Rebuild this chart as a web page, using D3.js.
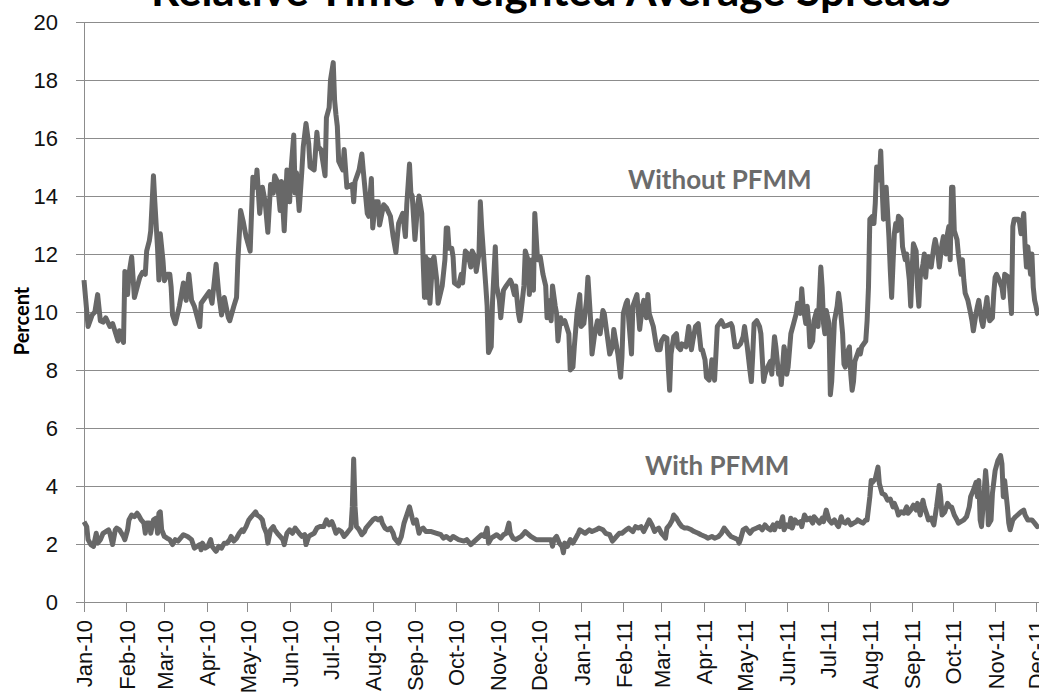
<!DOCTYPE html>
<html lang="en">
<head>
<meta charset="utf-8">
<title>Relative Time Weighted Average Spreads</title>
<style>
	body {
		margin: 0;
		background-color: white;
	}
	svg {
		display: block;
		font-family: Lato, "Open Sans", sans-serif;
	}
	.grid line {
		stroke: #8c8c8c;
		stroke-width: 1;
		shape-rendering: crispEdges;
	}
	.axis path,
	.axis line {
		fill: none;
		stroke: #8c8c8c;
		shape-rendering: crispEdges;
	}
	.axis text {
		font-size: 22px;
		fill: #111;
	}
	.series {
		fill: none;
		stroke: #686868;
		stroke-width: 5;
		stroke-linejoin: round;
	}
	.serieslabel {
		font-size: 26px;
		font-weight: bold;
		fill: #6b6b6b;
	}
	.title {
		font-size: 44px;
		font-weight: bold;
		fill: #000;
	}
	.ylabel {
		font-size: 20px;
		font-weight: bold;
		fill: #000;
	}
</style>
</head>
<body>
<script src="https://cdnjs.cloudflare.com/ajax/libs/d3/7.8.5/d3.min.js"></script>
<script>

var monthTicks = ["Jan-10", "Feb-10", "Mar-10", "Apr-10", "May-10", "Jun-10", "Jul-10", "Aug-10",
	"Sep-10", "Oct-10", "Nov-10", "Dec-10", "Jan-11", "Feb-11", "Mar-11", "Apr-11", "May-11",
	"Jun-11", "Jul-11", "Aug-11", "Sep-11", "Oct-11", "Nov-11", "Dec-11"];

var yTicks = [0, 2, 4, 6, 8, 10, 12, 14, 16, 18, 20];

// Without PFMM: [date, percent]
var withoutPFMM = [
	["1/1/10",11.1],["1/4/10",9.5],["1/7/10",9.9],["1/9/10",10.0],["1/11/10",10.6],["1/13/10",9.7],
	["1/15/10",9.65],["1/17/10",9.8],["1/20/10",9.5],["1/22/10",9.6],["1/24/10",9.3],["1/26/10",9.0],
	["1/27/10",9.35],["1/30/10",8.95],["1/31/10",11.4],["2/1/10",11.2],["2/2/10",10.6],["2/3/10",11.3],
	["2/5/10",11.9],["2/6/10",11.2],["2/7/10",10.5],["2/9/10",10.85],["2/11/10",11.2],["2/13/10",11.37],
	["2/15/10",11.3],["2/16/10",12.1],["2/18/10",12.46],["2/19/10",12.8],["2/21/10",14.7],["2/22/10",13.8],
	["2/24/10",12.2],["2/25/10",11.1],["2/26/10",12.7],["2/28/10",11.77],["3/1/10",11.08],["3/3/10",11.3],
	["3/5/10",11.3],["3/6/10",10.85],["3/7/10",9.9],["3/9/10",9.6],["3/12/10",10.2],["3/15/10",11.0],
	["3/17/10",10.4],["3/19/10",11.3],["3/21/10",10.4],["3/23/10",10.2],["3/27/10",9.5],["3/28/10",10.3],
	["3/31/10",10.5],["4/3/10",10.7],["4/5/10",10.3],["4/8/10",11.65],["4/10/10",10.6],["4/12/10",9.9],
	["4/14/10",10.5],["4/17/10",9.8],["4/18/10",9.7],["4/21/10",10.2],["4/23/10",10.5],["4/24/10",11.8],
	["4/26/10",13.5],["4/28/10",13.1],["4/30/10",12.6],["5/3/10",12.1],["5/4/10",13.4],["5/5/10",14.65],
	["5/7/10",14.3],["5/8/10",14.9],["5/10/10",13.4],["5/12/10",14.3],["5/14/10",13.8],["5/16/10",12.75],
	["5/18/10",14.4],["5/20/10",14.1],["5/21/10",14.7],["5/23/10",14.5],["5/25/10",13.5],["5/26/10",14.5],
	["5/28/10",12.8],["5/30/10",14.9],["6/1/10",13.8],["6/2/10",14.9],["6/4/10",16.1],["6/5/10",14.1],
	["6/6/10",14.8],["6/8/10",13.5],["6/10/10",14.9],["6/11/10",15.7],["6/13/10",16.5],["6/15/10",15.8],
	["6/16/10",15.0],["6/19/10",14.9],["6/21/10",16.2],["6/22/10",15.7],["6/24/10",15.6],["6/25/10",15.3],
	["6/27/10",14.7],["6/28/10",16.7],["6/30/10",17.05],["7/1/10",18.0],["7/3/10",18.6],["7/4/10",17.3],
	["7/5/10",16.8],["7/6/10",16.4],["7/7/10",15.2],["7/10/10",14.9],["7/11/10",15.6],["7/13/10",14.3],
	["7/17/10",14.4],["7/18/10",13.8],["7/19/10",14.5],["7/22/10",14.9],["7/24/10",15.45],["7/25/10",14.9],
	["7/28/10",13.4],["7/29/10",13.3],["7/31/10",14.6],["8/1/10",12.9],["8/3/10",13.8],["8/5/10",13.8],
	["8/6/10",13.0],["8/9/10",13.7],["8/11/10",13.6],["8/14/10",13.3],["8/16/10",12.6],["8/18/10",12.05],
	["8/20/10",13.05],["8/23/10",13.4],["8/25/10",12.6],["8/26/10",13.7],["8/28/10",15.1],["8/29/10",14.1],
	["8/30/10",14.0],["9/1/10",12.5],["9/3/10",13.7],["9/4/10",14.0],["9/6/10",13.4],["9/7/10",11.8],
	["9/8/10",10.5],["9/9/10",11.9],["9/10/10",10.5],["9/11/10",11.8],["9/12/10",10.3],["9/14/10",11.8],
	["9/15/10",11.9],["9/17/10",11.1],["9/18/10",10.3],["9/21/10",10.9],["9/23/10",11.8],["9/24/10",12.9],
	["9/25/10",12.9],["9/26/10",12.2],["9/28/10",12.2],["9/29/10",11.9],["9/30/10",11.0],["10/3/10",10.9],
	["10/5/10",11.3],["10/6/10",11.0],["10/8/10",12.1],["10/10/10",12.0],["10/12/10",11.55],["10/13/10",12.1],
	["10/15/10",11.9],["10/16/10",11.4],["10/18/10",12.0],["10/19/10",13.8],["10/20/10",12.9],["10/22/10",11.55],
	["10/23/10",10.9],["10/24/10",10.2],["10/25/10",8.6],["10/27/10",8.8],["10/28/10",10.4],["10/30/10",12.25],
	["10/31/10",10.9],["11/2/10",10.4],["11/3/10",9.8],["11/5/10",10.75],["11/7/10",10.9],["11/10/10",11.1],
	["11/11/10",11.0],["11/13/10",10.6],["11/14/10",10.9],["11/16/10",9.95],["11/17/10",9.7],["11/18/10",10.05],
	["11/20/10",10.9],["11/21/10",12.1],["11/23/10",11.8],["11/24/10",10.6],["11/26/10",11.8],["11/27/10",10.75],
	["11/28/10",13.4],["11/30/10",11.8],["12/2/10",11.9],["12/4/10",11.3],["12/6/10",10.9],["12/7/10",9.8],
	["12/8/10",10.4],["12/10/10",9.7],["12/11/10",10.9],["12/13/10",10.2],["12/14/10",9.95],["12/15/10",9.0],
	["12/17/10",9.8],["12/18/10",9.6],["12/20/10",9.7],["12/23/10",9.25],["12/24/10",8.0],["12/26/10",8.1],
	["12/27/10",8.8],["12/29/10",9.95],["12/31/10",10.6],["1/1/11",9.5],["1/3/11",9.6],["1/5/11",10.4],
	["1/6/11",11.2],["1/8/11",9.7],["1/9/11",8.55],["1/11/11",9.25],["1/13/11",9.7],["1/15/11",9.25],
	["1/17/11",10.05],["1/18/11",9.95],["1/20/11",9.25],["1/22/11",8.55],["1/24/11",8.8],["1/25/11",9.4],
	["1/28/11",8.55],["1/30/11",7.75],["1/31/11",8.45],["2/1/11",9.95],["2/3/11",10.3],["2/4/11",10.4],
	["2/5/11",9.7],["2/7/11",8.55],["2/8/11",10.2],["2/11/11",10.6],["2/13/11",9.4],["2/15/11",10.2],
	["2/16/11",10.4],["2/18/11",9.8],["2/19/11",10.6],["2/20/11",9.95],["2/23/11",9.5],["2/25/11",8.9],
	["2/26/11",8.7],["2/28/11",8.7],["3/1/11",9.0],["3/3/11",9.15],["3/5/11",9.1],["3/6/11",8.1],
	["3/7/11",7.3],["3/8/11",8.55],["3/10/11",9.15],["3/12/11",9.25],["3/13/11",8.8],["3/15/11",8.7],
	["3/16/11",8.9],["3/19/11",8.8],["3/21/11",9.5],["3/23/11",8.7],["3/24/11",9.0],["3/26/11",9.5],
	["3/28/11",9.6],["3/29/11",9.15],["3/30/11",8.7],["3/31/11",8.7],["4/2/11",8.35],["4/3/11",7.75],
	["4/5/11",7.65],["4/6/11",7.9],["4/7/11",8.35],["4/9/11",7.65],["4/10/11",8.55],["4/11/11",9.5],
	["4/14/11",9.7],["4/16/11",9.5],["4/19/11",9.55],["4/21/11",9.6],["4/22/11",9.5],["4/24/11",8.8],
	["4/26/11",8.8],["4/28/11",8.9],["4/30/11",9.15],["5/1/11",9.5],["5/3/11",8.8],["5/5/11",7.97],
	["5/6/11",7.6],["5/7/11",8.5],["5/8/11",9.6],["5/10/11",9.7],["5/12/11",9.5],["5/13/11",9.25],
	["5/15/11",7.6],["5/16/11",7.85],["5/18/11",8.1],["5/20/11",8.3],["5/21/11",7.85],["5/23/11",9.15],
	["5/24/11",8.8],["5/26/11",7.85],["5/27/11",8.1],["5/28/11",7.5],["5/30/11",8.8],["5/31/11",8.55],
	["6/1/11",7.85],["6/2/11",8.1],["6/4/11",9.25],["6/6/11",9.6],["6/8/11",9.95],["6/9/11",10.3],
	["6/11/11",9.95],["6/12/11",10.8],["6/13/11",10.2],["6/15/11",9.6],["6/16/11",10.2],["6/17/11",9.7],
	["6/18/11",8.8],["6/20/11",9.0],["6/21/11",9.7],["6/23/11",10.05],["6/24/11",9.5],["6/26/11",11.55],
	["6/27/11",10.85],["6/28/11",9.6],["6/29/11",9.25],["6/30/11",10.05],["7/2/11",9.6],["7/3/11",7.15],
	["7/4/11",7.6],["7/6/11",9.7],["7/7/11",9.95],["7/8/11",10.2],["7/9/11",10.65],["7/10/11",10.3],
	["7/12/11",9.25],["7/13/11",8.2],["7/14/11",8.1],["7/15/11",8.55],["7/17/11",8.8],["7/18/11",7.85],
	["7/19/11",7.3],["7/20/11",7.6],["7/21/11",8.3],["7/24/11",8.7],["7/25/11",8.55],["7/26/11",8.8],
	["7/29/11",9.0],["7/30/11",9.7],["7/31/11",10.85],["8/1/11",13.2],["8/3/11",13.3],["8/4/11",13.05],
	["8/5/11",13.75],["8/6/11",15.0],["8/8/11",14.55],["8/9/11",15.55],["8/10/11",14.3],["8/11/11",13.2],
	["8/12/11",14.1],["8/13/11",14.3],["8/15/11",12.6],["8/16/11",11.45],["8/17/11",10.5],["8/18/11",11.65],
	["8/19/11",12.7],["8/20/11",13.05],["8/21/11",12.8],["8/22/11",13.3],["8/24/11",13.2],["8/25/11",12.25],
	["8/27/11",11.8],["8/28/11",12.0],["8/30/11",11.1],["8/31/11",10.2],["9/1/11",11.45],["9/2/11",12.35],
	["9/4/11",12.1],["9/5/11",10.85],["9/6/11",10.2],["9/7/11",11.2],["9/9/11",11.65],["9/10/11",12.0],
	["9/11/11",11.2],["9/12/11",11.8],["9/13/11",11.9],["9/15/11",11.55],["9/16/11",11.9],["9/17/11",12.25],
	["9/18/11",12.5],["9/20/11",12.0],["9/21/11",11.55],["9/23/11",12.35],["9/24/11",12.6],["9/26/11",12.0],
	["9/27/11",12.7],["9/28/11",12.95],["9/29/11",11.8],["9/30/11",14.3],["10/1/11",14.3],["10/2/11",12.8],
	["10/4/11",12.5],["10/5/11",12.0],["10/7/11",11.3],["10/8/11",11.8],["10/9/11",11.1],["10/10/11",10.65],
	["10/12/11",10.4],["10/14/11",9.95],["10/15/11",9.7],["10/16/11",9.35],["10/18/11",9.95],["10/19/11",10.2],
	["10/20/11",10.4],["10/22/11",9.7],["10/23/11",9.5],["10/26/11",10.5],["10/27/11",9.95],["10/28/11",9.7],
	["10/30/11",9.8],["10/31/11",10.65],["11/1/11",11.2],["11/2/11",11.3],["11/4/11",11.1],["11/6/11",10.85],
	["11/7/11",10.5],["11/8/11",11.3],["11/11/11",11.2],["11/13/11",9.95],["11/14/11",12.95],["11/15/11",13.2],
	["11/18/11",13.2],["11/19/11",13.05],["11/20/11",12.7],["11/22/11",13.4],["11/23/11",12.25],["11/24/11",11.55],
	["11/25/11",12.25],["11/27/11",11.3],["11/28/11",12.0],["11/29/11",10.85],["11/30/11",10.4],["12/1/11",10.2],
	["12/2/11",9.95],["12/3/11",9.9]
];

// With PFMM: [date, percent]
var withPFMM = [
	["1/1/10",2.77],["1/3/10",2.6],["1/4/10",2.15],["1/6/10",1.98],["1/8/10",1.92],["1/10/10",2.37],
	["1/11/10",2.03],["1/13/10",2.15],["1/15/10",2.37],["1/17/10",2.43],["1/19/10",2.49],["1/20/10",2.37],
	["1/22/10",1.98],["1/24/10",2.49],["1/25/10",2.55],["1/27/10",2.49],["1/30/10",2.26],["1/31/10",2.15],
	["2/2/10",2.49],["2/3/10",2.83],["2/5/10",3.0],["2/7/10",2.94],["2/9/10",3.06],["2/10/10",3.0],
	["2/12/10",2.83],["2/14/10",2.72],["2/15/10",2.37],["2/16/10",2.72],["2/18/10",2.72],["2/19/10",2.37],
	["2/21/10",2.83],["2/23/10",2.89],["2/24/10",2.37],["2/25/10",3.06],["2/26/10",3.11],["2/27/10",2.49],
	["3/1/10",2.26],["3/3/10",2.2],["3/5/10",2.15],["3/7/10",1.98],["3/9/10",2.15],["3/11/10",2.1],
	["3/15/10",2.32],["3/18/10",2.26],["3/21/10",2.15],["3/23/10",1.86],["3/25/10",1.92],["3/27/10",1.98],
	["3/28/10",1.8],["3/29/10",2.03],["3/31/10",1.86],["4/2/10",1.92],["4/4/10",2.15],["4/5/10",1.92],
	["4/7/10",1.8],["4/8/10",1.75],["4/10/10",1.92],["4/12/10",1.86],["4/14/10",2.03],["4/16/10",2.03],
	["4/18/10",2.15],["4/19/10",2.26],["4/21/10",2.1],["4/23/10",2.2],["4/25/10",2.37],["4/27/10",2.49],
	["4/28/10",2.43],["4/30/10",2.6],["5/2/10",2.83],["5/3/10",2.89],["5/5/10",3.0],["5/7/10",3.11],
	["5/8/10",3.0],["5/10/10",2.94],["5/12/10",2.83],["5/13/10",2.6],["5/15/10",2.37],["5/16/10",2.03],
	["5/18/10",2.49],["5/20/10",2.6],["5/21/10",2.49],["5/23/10",2.37],["5/25/10",2.26],["5/27/10",2.15],
	["5/28/10",1.98],["5/30/10",2.37],["6/1/10",2.49],["6/3/10",2.37],["6/5/10",2.55],["6/6/10",2.49],
	["6/8/10",2.37],["6/10/10",2.26],["6/12/10",2.32],["6/13/10",1.98],["6/15/10",2.26],["6/17/10",2.32],
	["6/19/10",2.37],["6/21/10",2.55],["6/23/10",2.6],["6/26/10",2.6],["6/28/10",2.83],["6/30/10",2.66],
	["7/2/10",2.77],["7/3/10",2.66],["7/5/10",2.37],["7/7/10",2.49],["7/9/10",2.43],["7/11/10",2.26],
	["7/13/10",2.37],["7/14/10",2.43],["7/16/10",2.55],["7/17/10",3.28],["7/18/10",4.93],["7/19/10",3.28],
	["7/20/10",2.6],["7/21/10",2.55],["7/22/10",2.49],["7/24/10",2.32],["7/26/10",2.43],["7/27/10",2.55],
	["7/29/10",2.66],["7/31/10",2.77],["8/1/10",2.83],["8/3/10",2.89],["8/5/10",2.83],["8/7/10",2.89],
	["8/8/10",2.72],["8/10/10",2.55],["8/12/10",2.49],["8/14/10",2.55],["8/16/10",2.37],["8/17/10",2.2],
	["8/20/10",2.03],["8/22/10",2.26],["8/24/10",2.72],["8/26/10",3.0],["8/28/10",3.28],["8/30/10",2.89],
	["8/31/10",2.72],["9/2/10",2.83],["9/4/10",2.37],["9/5/10",2.49],["9/7/10",2.55],["9/9/10",2.43],
	["9/13/10",2.43],["9/17/10",2.37],["9/20/10",2.32],["9/22/10",2.2],["9/24/10",2.26],["9/27/10",2.15],
	["9/29/10",2.26],["10/3/10",2.15],["10/7/10",2.1],["10/9/10",2.15],["10/12/10",1.98],["10/16/10",2.15],
	["10/20/10",2.32],["10/22/10",2.26],["10/24/10",2.55],["10/25/10",2.03],["10/27/10",2.2],["10/31/10",2.32],
	["11/3/10",2.2],["11/5/10",2.32],["11/7/10",2.37],["11/9/10",2.72],["11/10/10",2.37],["11/12/10",2.2],
	["11/14/10",2.15],["11/18/10",2.26],["11/20/10",2.37],["11/21/10",2.43],["11/25/10",2.26],["11/29/10",2.15],
	["12/3/10",2.15],["12/6/10",2.15],["12/10/10",2.15],["12/11/10",1.92],["12/12/10",2.15],["12/14/10",2.26],
	["12/15/10",2.15],["12/16/10",2.03],["12/18/10",1.92],["12/19/10",1.7],["12/20/10",2.03],["12/22/10",1.92],
	["12/24/10",2.15],["12/26/10",2.03],["12/28/10",2.2],["12/30/10",2.37],["12/31/10",2.49],["1/2/11",2.43],
	["1/4/11",2.37],["1/7/11",2.49],["1/9/11",2.43],["1/12/11",2.49],["1/14/11",2.55],["1/17/11",2.49],
	["1/19/11",2.37],["1/22/11",2.32],["1/24/11",2.1],["1/25/11",2.15],["1/27/11",2.26],["1/29/11",2.37],
	["1/31/11",2.37],["2/3/11",2.49],["2/5/11",2.55],["2/8/11",2.43],["2/10/11",2.6],["2/12/11",2.55],
	["2/14/11",2.6],["2/16/11",2.43],["2/19/11",2.72],["2/20/11",2.83],["2/22/11",2.66],["2/24/11",2.43],
	["2/25/11",2.49],["2/27/11",2.55],["3/1/11",2.37],["3/3/11",2.26],["3/4/11",2.2],["3/5/11",2.55],
	["3/7/11",2.66],["3/9/11",2.83],["3/10/11",3.0],["3/12/11",2.89],["3/14/11",2.72],["3/16/11",2.6],
	["3/18/11",2.55],["3/20/11",2.55],["3/23/11",2.49],["3/25/11",2.43],["3/28/11",2.37],["3/30/11",2.32],
	["4/2/11",2.26],["4/4/11",2.2],["4/7/11",2.26],["4/9/11",2.2],["4/12/11",2.26],["4/14/11",2.37],
	["4/16/11",2.55],["4/19/11",2.37],["4/21/11",2.26],["4/24/11",2.2],["4/26/11",2.15],["4/27/11",2.03],
	["4/28/11",2.15],["4/30/11",2.49],["5/2/11",2.55],["5/5/11",2.37],["5/7/11",2.49],["5/10/11",2.55],
	["5/12/11",2.6],["5/14/11",2.49],["5/16/11",2.66],["5/18/11",2.55],["5/20/11",2.49],["5/22/11",2.66],
	["5/23/11",2.49],["5/25/11",2.72],["5/27/11",2.6],["5/29/11",2.94],["5/30/11",2.49],["6/1/11",2.66],
	["6/3/11",2.6],["6/4/11",2.89],["6/5/11",2.55],["6/7/11",2.83],["6/9/11",2.72],["6/11/11",2.77],
	["6/12/11",2.6],["6/14/11",3.0],["6/16/11",2.83],["6/18/11",2.89],["6/20/11",2.72],["6/21/11",2.94],
	["6/23/11",2.83],["6/25/11",2.72],["6/27/11",2.89],["6/28/11",2.77],["6/30/11",3.17],["7/2/11",2.83],
	["7/4/11",2.72],["7/6/11",2.83],["7/8/11",2.66],["7/9/11",2.6],["7/11/11",2.94],["7/12/11",2.77],
	["7/14/11",2.72],["7/16/11",2.83],["7/18/11",2.66],["7/20/11",2.72],["7/22/11",2.77],["7/23/11",2.83],
	["7/25/11",2.77],["7/27/11",2.72],["7/29/11",2.83],["7/30/11",2.83],["8/1/11",3.63],["8/2/11",4.19],
	["8/3/11",4.13],["8/5/11",4.25],["8/7/11",4.65],["8/8/11",4.08],["8/10/11",3.74],["8/12/11",3.7],
	["8/14/11",3.51],["8/16/11",3.55],["8/18/11",3.28],["8/19/11",3.4],["8/21/11",3.17],["8/22/11",3.0],
	["8/24/11",3.11],["8/26/11",3.06],["8/28/11",3.28],["8/29/11",3.06],["8/31/11",3.17],["9/2/11",3.34],
	["9/4/11",3.17],["9/5/11",3.4],["9/7/11",3.0],["9/9/11",3.51],["9/10/11",3.28],["9/12/11",3.0],
	["9/13/11",2.83],["9/15/11",2.89],["9/17/11",2.66],["9/19/11",3.28],["9/21/11",4.02],["9/22/11",3.63],
	["9/23/11",3.0],["9/25/11",3.1],["9/27/11",3.4],["9/29/11",3.28],["9/30/11",3.28],["10/2/11",3.0],
	["10/4/11",2.83],["10/5/11",2.72],["10/9/11",2.83],["10/11/11",2.94],["10/13/11",3.28],["10/14/11",3.63],
	["10/16/11",3.85],["10/18/11",4.13],["10/19/11",3.63],["10/20/11",4.19],["10/21/11",2.83],["10/22/11",2.6],
	["10/24/11",3.85],["10/25/11",4.53],["10/26/11",3.97],["10/27/11",2.66],["10/29/11",2.83],["10/30/11",3.74],
	["11/1/11",4.53],["11/3/11",4.87],["11/5/11",5.05],["11/6/11",4.76],["11/7/11",3.63],["11/8/11",4.19],
	["11/10/11",3.28],["11/11/11",2.72],["11/12/11",2.49],["11/14/11",2.83],["11/16/11",2.94],["11/20/11",3.11],
	["11/22/11",3.17],["11/23/11",3.0],["11/25/11",2.83],["11/28/11",2.83],["11/30/11",2.72],["12/2/11",2.6],
	["12/3/11",2.66]
];

var fullwidth = 1039;
var fullheight = 700;
var margin = { top: 22, left: 84 };
var width = 952;   // Jan-10 .. Dec-11
var height = 580;

var parseTick = d3.timeParse("%b-%y");
var parseDate = d3.timeParse("%m/%d/%y");

var tickDates = monthTicks.map(parseTick);

var svg = d3.select("body")
	.append("svg")
	.attr("width", fullwidth)
	.attr("height", fullheight);

var g = svg.append("g")
	.attr("transform", "translate(" + margin.left + "," + margin.top + ")");

var xScale = d3.scaleTime()
	.domain([tickDates[0], tickDates[tickDates.length - 1]])
	.range([0, width]);

var yScale = d3.scaleLinear()
	.domain([0, 20])
	.range([height, 0]);

// gridlines (the 0 line doubles as the x axis line)
g.append("g")
	.attr("class", "grid")
	.selectAll("line")
	.data(yTicks)
	.enter()
	.append("line")
	.attr("x1", -8)
	.attr("x2", fullwidth)
	.attr("y1", function(d) { return yScale(d); })
	.attr("y2", function(d) { return yScale(d); });

var yAxis = d3.axisLeft(yScale)
	.tickValues(yTicks)
	.tickSize(8)
	.tickSizeOuter(0)
	.tickPadding(18);

g.append("g")
	.attr("class", "y axis")
	.call(yAxis);

var xAxis = d3.axisBottom(xScale)
	.tickValues(tickDates)
	.tickSize(10)
	.tickFormat(function(d, i) { return monthTicks[i]; });

var xg = g.append("g")
	.attr("class", "x axis")
	.attr("transform", "translate(0," + height + ")")
	.call(xAxis);

xg.select(".domain").remove();

xg.selectAll("text")
	.attr("transform", "rotate(-90)")
	.attr("text-anchor", "end")
	.attr("x", -18)
	.attr("y", 0)
	.attr("dy", "0.36em");

var line = d3.line()
	.x(function(d) { return xScale(parseDate(d[0])); })
	.y(function(d) { return yScale(d[1]); });

g.append("path")
	.datum(withoutPFMM)
	.attr("class", "series")
	.attr("d", line);

g.append("path")
	.datum(withPFMM)
	.attr("class", "series")
	.attr("d", line);

// labels
svg.append("text")
	.attr("class", "serieslabel")
	.attr("x", 628)
	.attr("y", 189)
	.text("Without PFMM");

svg.append("text")
	.attr("class", "serieslabel")
	.attr("x", 645)
	.attr("y", 475)
	.text("With PFMM");

svg.append("text")
	.attr("class", "ylabel")
	.attr("transform", "translate(29,321) rotate(-90)")
	.attr("text-anchor", "middle")
	.text("Percent");

// the title sits mostly above the top edge, as in the source image
svg.append("text")
	.attr("class", "title")
	.attr("x", 551)
	.attr("y", 6)
	.attr("text-anchor", "middle")
	.text("Relative Time Weighted Average Spreads");

</script>
</body>
</html>
